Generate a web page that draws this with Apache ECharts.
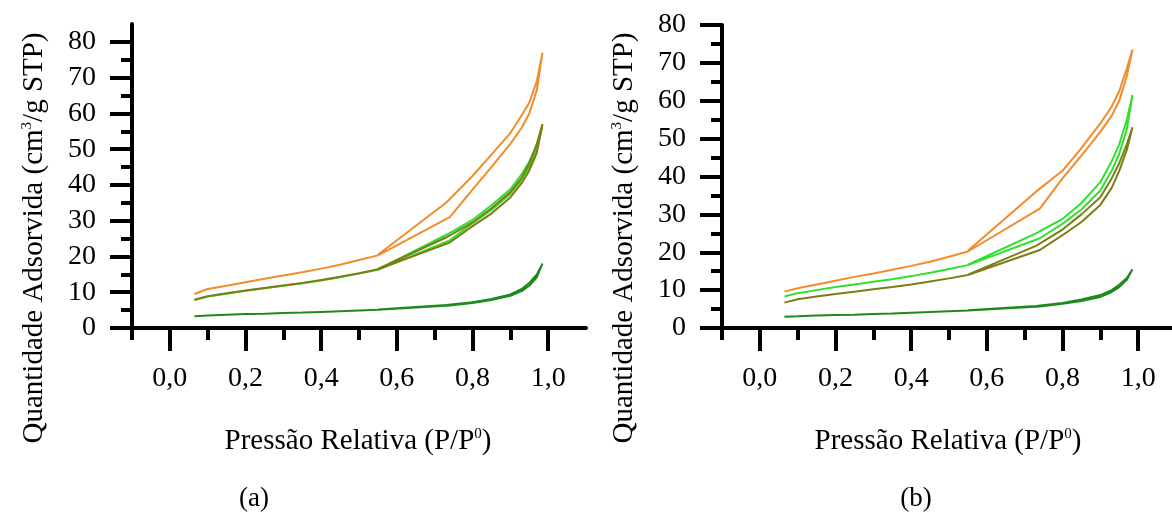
<!DOCTYPE html>
<html>
<head>
<meta charset="utf-8">
<script src="https://cdn.jsdelivr.net/npm/echarts@6/dist/echarts.min.js"></script>
<style>
  html, body { margin: 0; padding: 0; background: #fff; }
  #chart { width: 1172px; height: 515px; }
</style>
</head>
<body>
<div id="chart"></div>
<script>
// Relative pressure steps (P/P0) for the adsorption and desorption branches
const pAds = [0.065, 0.10, 0.15, 0.20, 0.25, 0.30, 0.35, 0.40, 0.45, 0.50, 0.55, 0.74, 0.80, 0.85, 0.90, 0.93, 0.95, 0.97, 0.985];
const pDes = [0.985, 0.97, 0.95, 0.93, 0.90, 0.85, 0.80, 0.73, 0.55];

// Panel (a): adsorbed quantity (cm3/g STP)
const aOrangeAds = [9.5, 10.9, 11.8, 12.8, 13.8, 14.7, 15.6, 16.6, 17.7, 19.0, 20.3, 31.0, 38.7, 45.0, 51.5, 56.0, 60.0, 66.5, 77.0];
const aOrangeDes = [77.0, 69.0, 63.0, 59.5, 54.5, 48.5, 42.5, 35.0, 20.5];
const aGreenAds = [7.8, 8.8, 9.6, 10.4, 11.1, 11.8, 12.5, 13.3, 14.2, 15.2, 16.3, 24.5, 29.3, 33.0, 37.5, 41.5, 45.0, 50.0, 56.5];
const aGreenDes = [56.5, 51.0, 46.5, 43.0, 38.8, 34.3, 30.2, 26.0, 16.4];
const aOliveAds = [7.9, 8.9, 9.7, 10.5, 11.2, 11.9, 12.6, 13.4, 14.3, 15.3, 16.4, 23.9, 28.5, 32.0, 36.5, 40.5, 44.0, 49.0, 57.0];
const aOliveDes = [57.0, 51.5, 46.0, 42.0, 38.0, 33.5, 29.5, 25.3, 16.5];
const aDarkAds = [3.3, 3.5, 3.7, 3.9, 4.0, 4.2, 4.3, 4.5, 4.7, 4.9, 5.1, 6.3, 7.0, 7.8, 9.0, 10.3, 11.8, 14.2, 18.0];
const aDarkDes = [18.0, 15.0, 12.6, 10.9, 9.4, 8.1, 7.2, 6.4, 5.2];

// Panel (b)
const bOrangeAds = [9.6, 10.5, 11.5, 12.5, 13.5, 14.4, 15.4, 16.4, 17.5, 18.8, 20.2, 31.5, 39.5, 45.5, 51.8, 56.0, 60.0, 66.5, 73.5];
const bOrangeDes = [73.5, 68.5, 62.5, 58.5, 54.0, 47.5, 41.5, 36.0, 20.4];
const bGreenAds = [8.3, 9.2, 10.0, 10.8, 11.5, 12.2, 12.9, 13.7, 14.6, 15.6, 16.6, 23.7, 27.5, 31.3, 36.3, 41.5, 46.0, 52.5, 61.5];
const bGreenDes = [61.5, 55.0, 48.5, 44.0, 38.5, 33.0, 28.8, 25.0, 16.7];
const bOliveAds = [6.7, 7.6, 8.3, 9.0, 9.6, 10.2, 10.8, 11.5, 12.3, 13.1, 14.0, 20.6, 24.5, 28.0, 32.5, 37.0, 41.5, 47.0, 53.0];
const bOliveDes = [53.0, 48.5, 43.5, 39.5, 34.5, 30.0, 26.0, 21.7, 14.1];
const bDarkAds = [3.0, 3.1, 3.3, 3.4, 3.5, 3.7, 3.8, 4.0, 4.2, 4.4, 4.6, 5.7, 6.4, 7.1, 8.2, 9.5, 10.8, 12.7, 15.5];
const bDarkDes = [15.5, 13.2, 11.4, 10.0, 8.7, 7.5, 6.6, 5.8, 4.7];

// Axis ticks and labels
const xMajor = [0, 0.2, 0.4, 0.6, 0.8, 1.0];
const xTickLabels = ['0,0', '0,2', '0,4', '0,6', '0,8', '1,0'];
const xMinor = [-0.1, 0.1, 0.3, 0.5, 0.7, 0.9];
const yMajor = [0, 10, 20, 30, 40, 50, 60, 70, 80];
const yMinor = [5, 15, 25, 35, 45, 55, 65, 75];
const yMaxA = 85;
const yMaxB = 80;

const COLORS = { orange: '#f28c2a', green: '#2fe02f', olive: '#7d7d16', dark: '#1e8a1e' };
const FONT = "'Liberation Serif', 'Times New Roman', serif";

function loop(ads, des) {
  return pAds.map((p, i) => [p, ads[i]]).concat(pDes.map((p, i) => [p, des[i]]));
}

function lineSeries(idx, color, ads, des, z) {
  return {
    type: 'line', xAxisIndex: idx * 2, yAxisIndex: idx * 2,
    data: loop(ads, des), showSymbol: false, symbol: 'none',
    lineStyle: { color: color, width: 2 }, z: z, animation: false, silent: true
  };
}

const tickLine = { color: '#000', width: 4 };

function xAxes(gridIndex) {
  return [
    {
      type: 'value', gridIndex: gridIndex, position: 'bottom', min: -0.1, max: 1.1,
      axisLine: { show: true, onZero: false, lineStyle: tickLine },
      axisTick: { show: true, customValues: xMajor, length: 23, lineStyle: tickLine },
      axisLabel: {
        customValues: xMajor, margin: 37, fontSize: 28, fontFamily: FONT, color: '#000',
        formatter: v => xTickLabels[xMajor.findIndex(t => Math.abs(t - v) < 1e-9)]
      },
      splitLine: { show: false }
    },
    {
      type: 'value', gridIndex: gridIndex, position: 'bottom', offset: 0, min: -0.1, max: 1.1,
      axisLine: { show: false, onZero: false },
      axisTick: { show: true, customValues: xMinor, length: 12, lineStyle: tickLine },
      axisLabel: { show: false }, splitLine: { show: false }
    }
  ];
}

function yAxes(gridIndex, max) {
  return [
    {
      type: 'value', gridIndex: gridIndex, position: 'left', min: 0, max: max,
      axisLine: { show: true, onZero: false, lineStyle: tickLine },
      axisTick: { show: true, customValues: yMajor, length: 22, lineStyle: tickLine },
      axisLabel: { customValues: yMajor, margin: 36, fontSize: 28, fontFamily: FONT, color: '#000' },
      splitLine: { show: false }
    },
    {
      type: 'value', gridIndex: gridIndex, position: 'left', offset: 0, min: 0, max: max,
      axisLine: { show: false, onZero: false },
      axisTick: { show: true, customValues: yMinor, length: 11, lineStyle: tickLine },
      axisLabel: { show: false }, splitLine: { show: false }
    }
  ];
}

const titleRich = {
  m: { fontSize: 29, fontFamily: FONT, fill: '#000' },
  s: { fontSize: 15, fontFamily: FONT, fill: '#000', verticalAlign: 'top' }
};

function yTitle(x) {
  return {
    type: 'text', x: x, y: 238, rotation: Math.PI / 2,
    style: {
      text: '{m|Quantidade Adsorvida (cm}{s|3}{m|/g STP)}',
      align: 'center', verticalAlign: 'middle', rich: titleRich
    }
  };
}

function xTitle(x) {
  return {
    type: 'text', x: x, y: 441,
    style: {
      text: '{m|Pressão Relativa (P/P}{s|0}{m|)}',
      align: 'center', verticalAlign: 'middle', rich: titleRich
    }
  };
}

function caption(x, label) {
  return {
    type: 'text', x: x, y: 499,
    style: { text: label, fontSize: 27, fontFamily: FONT, fill: '#000', align: 'center', verticalAlign: 'middle' }
  };
}

const chart = echarts.init(document.getElementById('chart'), null, { renderer: 'canvas' });
chart.setOption({
  backgroundColor: '#fff',
  animation: false,
  grid: [
    { left: 132, top: 24, width: 454, height: 304, outerBoundsMode: 'none' },
    { left: 722, top: 25, width: 454, height: 303, outerBoundsMode: 'none' }
  ],
  xAxis: xAxes(0).concat(xAxes(1)),
  yAxis: yAxes(0, yMaxA).concat(yAxes(1, yMaxB)),
  series: [
    lineSeries(0, COLORS.dark, aDarkAds, aDarkDes, 2),
    lineSeries(0, COLORS.green, aGreenAds, aGreenDes, 3),
    lineSeries(0, COLORS.olive, aOliveAds, aOliveDes, 4),
    lineSeries(0, COLORS.orange, aOrangeAds, aOrangeDes, 5),
    lineSeries(1, COLORS.dark, bDarkAds, bDarkDes, 2),
    lineSeries(1, COLORS.olive, bOliveAds, bOliveDes, 3),
    lineSeries(1, COLORS.green, bGreenAds, bGreenDes, 4),
    lineSeries(1, COLORS.orange, bOrangeAds, bOrangeDes, 5)
  ],
  graphic: [
    yTitle(34), yTitle(624),
    xTitle(358), xTitle(948),
    caption(254, '(a)'), caption(916, '(b)')
  ]
});
</script>
</body>
</html>
